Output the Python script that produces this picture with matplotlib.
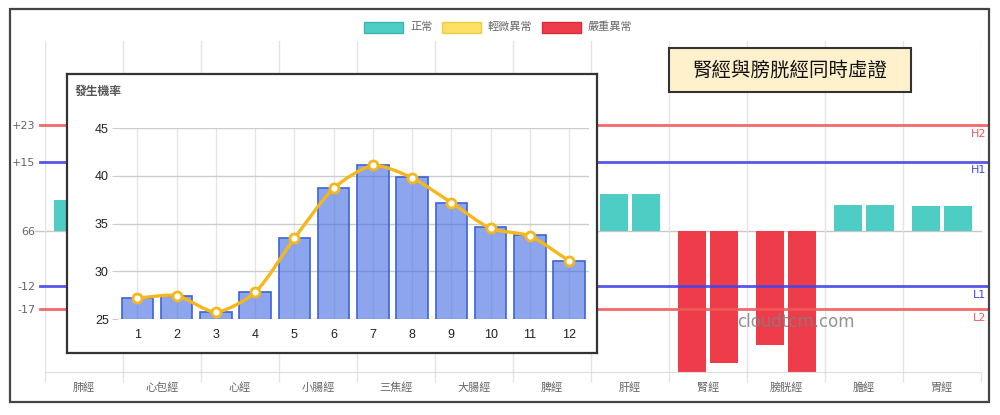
import numpy as np
import matplotlib
matplotlib.use("Agg")
import matplotlib.pyplot as plt
from matplotlib.patches import Rectangle, PathPatch
from matplotlib.path import Path

plt.rcParams["font.family"] = ["Noto Sans CJK TC", "DejaVu Sans"]

# main chart data (deviation from baseline 66)
meridians = ["肺經", "心包經", "心經", "小腸經", "三焦經", "大腸經",
             "脾經", "肝經", "腎經", "膀胱經", "膽經", "胃經"]
left_vals = [6.7, 5.0, 4.0, 6.0, 5.5, 4.5, 5.0, 8.1, -30.6, -24.7, 5.7, 5.4]
right_vals = [6.7, 5.0, 4.0, 6.0, 5.5, 4.5, 5.0, 8.1, -28.6, -30.6, 5.7, 5.4]
thresholds = {"H2": 23, "H1": 15, "L1": -12, "L2": -17}
base_label = "66"

# inset data
months = list(range(1, 13))
prob_bars = [27.2, 27.45, 25.73, 27.83, 33.46, 38.74, 41.12, 39.9, 37.2, 34.6, 33.78, 31.1]
prob_line = [27.2, 27.45, 25.73, 27.8, 33.46, 38.7, 41.1, 39.8, 37.2, 34.5, 33.7, 31.1]

TEAL = "#4ecdc4"
YELLOW = "#ffe066"
RED = "#ef3c4b"
HRED = "#f25a5a"
HBLUE = "#4444e6"

W, H = 1000, 415


def fx(x):
    return x / W


def fy(y):
    return 1 - y / H


def status_color(v):
    if v > thresholds["H2"] or v < thresholds["L2"]:
        return RED
    if v > thresholds["H1"] or v < thresholds["L1"]:
        return YELLOW
    return TEAL


fig = plt.figure(figsize=(10, 4.15), dpi=100)

# ---- main chart
ax = fig.add_axes([fx(45), fy(371.7), (981 - 45) / W, (371.7 - 41) / H])
x = np.arange(len(meridians))
ax.bar(x - 0.2, left_vals, 0.36, color=[status_color(v) for v in left_vals], zorder=2)
ax.bar(x + 0.2, right_vals, 0.36, color=[status_color(v) for v in right_vals], zorder=2)
ax.set_xlim(-0.5, len(meridians) - 0.5)
ax.set_ylim(-30.6, 41.3)

ax.set_xticks(x)
ax.set_xticklabels(meridians, fontsize=8, color="#666")
ax.set_xticks(np.arange(-0.5, len(meridians), 1), minor=True)
ax.tick_params(axis="x", which="major", length=0, pad=7.5)
ax.tick_params(axis="x", which="minor", length=7, color="#e4e4e4", width=1)
ax.grid(axis="x", which="minor", color="#e4e4e4", lw=1, zorder=0)

yt = [thresholds["H2"], thresholds["H1"], 0, thresholds["L1"], thresholds["L2"]]
ax.set_yticks(yt)
ax.set_yticklabels(["+%d" % thresholds["H2"], "+%d" % thresholds["H1"], base_label,
                    "%d" % thresholds["L1"], "%d" % thresholds["L2"]],
                   fontsize=8, color="#666", family=["DejaVu Sans"])
ax.tick_params(axis="y", length=0, pad=7)

for s in ["top", "right", "left"]:
    ax.spines[s].set_visible(False)
ax.spines["bottom"].set_color("#dddddd")

ax.axhline(0, xmin=-10 / 936, xmax=1, color="#c8c8c8", lw=1, clip_on=False, zorder=1)
for name, val in thresholds.items():
    col = HRED if name.endswith("2") else HBLUE
    ax.axhline(val, xmin=-5 / 936, xmax=1 + 6 / 936, color=col, lw=2.0,
               clip_on=False, zorder=3, alpha=0.9)
    ax.annotate(name, xy=(1 + 5 / 936, val), xycoords=("axes fraction", "data"),
                xytext=(0, -2.5), textcoords="offset points", ha="right", va="top",
                fontsize=8, color=col, family=["DejaVu Sans"], annotation_clip=False)

ax.text(0.802, 0.15, "cloudtcm.com", transform=ax.transAxes, ha="center", va="center",
        fontsize=12, color="#808080", alpha=0.85, family=["DejaVu Sans"], zorder=5)

# ---- inset
ax_box = fig.add_axes([fx(67), fy(353), 530 / W, 279 / H])
ax_box.set_xticks([])
ax_box.set_yticks([])
ax_box.set_facecolor("white")
for s in ax_box.spines.values():
    s.set_color("#333333")
    s.set_linewidth(1.6)

ax_in = fig.add_axes([fx(117.8), fy(319), (588.7 - 117.8) / W, (319 - 128.3) / H])
ax_in.set_facecolor("none")
ax_in.bar(months, prob_bars, 0.8, color=(65 / 255, 105 / 255, 225 / 255, 0.6),
          edgecolor="#3d63d8", linewidth=1.2, zorder=2)
ax_in.set_xlim(0.5, 12.5)
ax_in.set_ylim(25, 45)
ax_in.set_xticks(months)
ax_in.set_yticks([25, 30, 35, 40, 45])
ax_in.tick_params(axis="x", length=0, pad=7, labelsize=9, labelcolor="#222")
ax_in.tick_params(axis="y", length=4.5, pad=2, color="#cccccc", labelsize=9, labelcolor="#222")
for lab in ax_in.get_xticklabels() + ax_in.get_yticklabels():
    lab.set_family(["Liberation Sans", "DejaVu Sans"])
ax_in.grid(axis="x", color="#e6e6e6", lw=1, zorder=0)
ax_in.grid(axis="y", color="#cccccc", lw=1, zorder=0)
for s in ax_in.spines.values():
    s.set_visible(False)

# smooth line through the points (spline with tension, as the original chart)
pts = ax_in.transData.transform(np.column_stack([months, prob_line]))
tension = 0.25
verts = [pts[0]]
codes = [Path.MOVETO]
ctrl_prev, ctrl_next = [], []
for i in range(len(pts)):
    p0 = pts[max(i - 1, 0)]
    p1 = pts[i]
    p2 = pts[min(i + 1, len(pts) - 1)]
    d01 = np.hypot(*(p1 - p0))
    d12 = np.hypot(*(p2 - p1))
    tot = d01 + d12 if d01 + d12 > 0 else 1
    fa = tension * d01 / tot
    fb = tension * d12 / tot
    ctrl_prev.append(p1 - fa * (p2 - p0))
    ctrl_next.append(p1 + fb * (p2 - p0))
for i in range(1, len(pts)):
    verts += [ctrl_next[i - 1], ctrl_prev[i], pts[i]]
    codes += [Path.CURVE4] * 3
verts = ax_in.transData.inverted().transform(np.array(verts))
ax_in.add_patch(PathPatch(Path(verts, codes), fill=False, edgecolor="#f4b81c",
                          lw=2.4, zorder=3, clip_on=False))
ax_in.plot(months, prob_line, "o", mfc="white", mec="#f4b81c", ms=6.5, mew=2,
           zorder=4, clip_on=False)

fig.text(fx(74.4), fy(91.7), "發生機率", ha="left", va="center", fontsize=8.5,
         color="#555", fontweight="bold")

# ---- legend
legend_items = [("正常", TEAL, "#3fb5ad", 364), ("輕微異常", YELLOW, "#f0cc40", 441.7),
                ("嚴重異常", RED, "#d92c3b", 542)]
for lab, fc, ec, lx in legend_items:
    fig.patches.append(Rectangle((fx(lx), fy(32.7)), 39 / W, 11 / H, transform=fig.transFigure,
                                 facecolor=fc, edgecolor=ec, lw=1))
    fig.text(fx(lx + 46), fy(27.2), lab, ha="left", va="center", fontsize=8, color="#666")

# ---- annotation box
fig.patches.append(Rectangle((fx(669.3), fy(92.3)), (910.7 - 669.3) / W, 44 / H,
                             transform=fig.transFigure, facecolor="#fff1cc",
                             edgecolor="#333333", lw=1.5))
fig.text(fx(790), fy(70.5), "腎經與膀胱經同時虛證", ha="center", va="center",
         fontsize=14, color="#111")

# ---- outer frame
fig.patches.append(Rectangle((fx(10), fy(401.7)), 979 / W, 392.7 / H,
                             transform=fig.transFigure, facecolor="none",
                             edgecolor="#444444", lw=1.6))

fig.savefig("out.png", dpi=100)
